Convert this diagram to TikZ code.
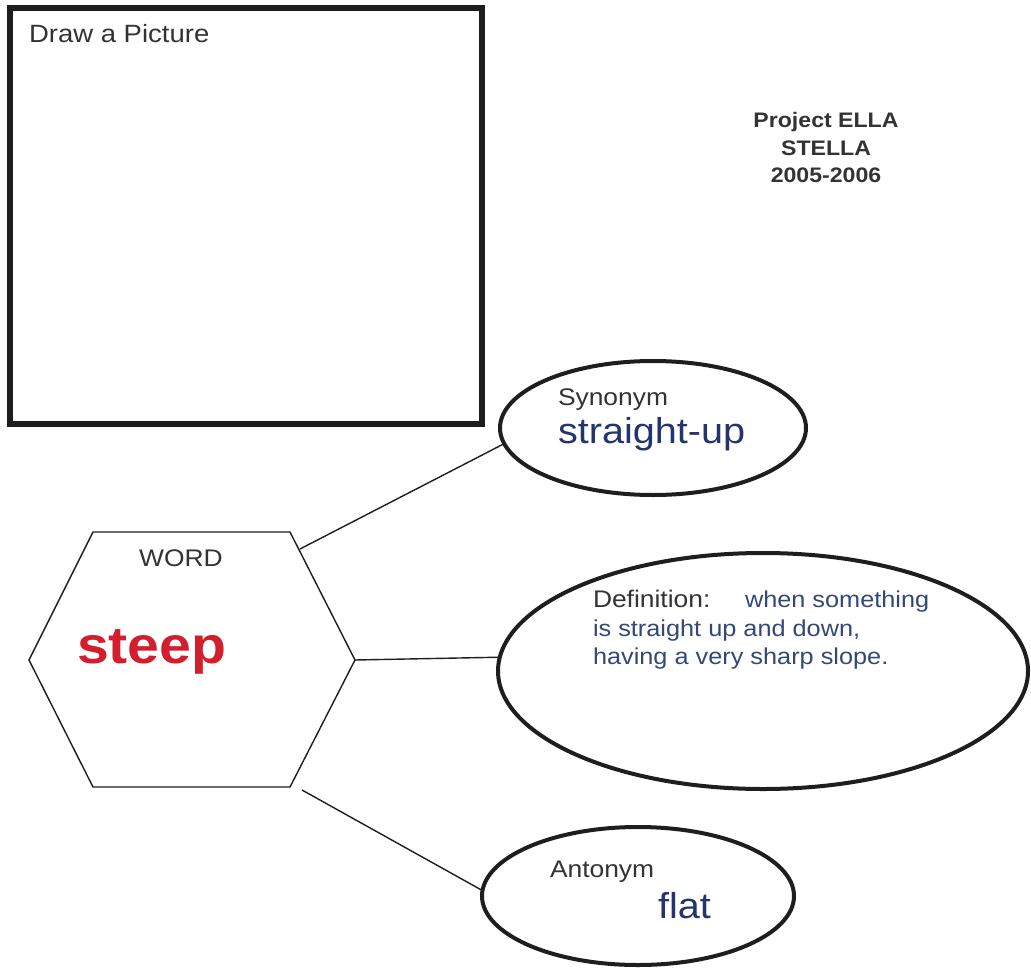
\documentclass[tikz,border=0pt]{standalone}
\usepackage{fontspec}
\setmainfont{Liberation Sans}[FakeStretch=1.1]
\usetikzlibrary{shapes.geometric}
\definecolor{txt}{RGB}{51,51,51}
\definecolor{navy}{RGB}{36,52,110}
\definecolor{slate}{RGB}{52,72,120}
\definecolor{wordred}{RGB}{210,30,45}
\definecolor{ink}{RGB}{30,30,30}
\tikzset{
  lbl/.style={inner sep=0pt, outer sep=0pt, anchor=base west, text=txt},
  clbl/.style={inner sep=0pt, outer sep=0pt, anchor=base, text=txt},
  bubble/.style={ellipse, draw=ink, line width=4pt, inner sep=0pt, outer sep=0pt},
  link/.style={draw=ink, line width=1.4pt},
}
\begin{document}
\begin{tikzpicture}[x=1pt,y=-1pt]
\useasboundingbox (0,0) rectangle (1031,969);
\fill[white] (0,0) rectangle (1031,969);
% picture frame
\node[draw=ink, line width=6pt, minimum width=472pt, minimum height=416.5pt, inner sep=0pt, outer sep=0pt] (pic) at (246,215.75) {};
\node[lbl, font=\fontsize{25}{30}\selectfont] (drawlbl) at (29,42) {Draw a Picture};
% project info
\node[clbl, font=\bfseries\fontsize{21}{26}\selectfont] (proj1) at (826,127) {Project ELLA};
\node[clbl, font=\bfseries\fontsize{21}{26}\selectfont] (proj2) at (826,155) {STELLA};
\node[clbl, font=\bfseries\fontsize{21}{26}\selectfont] (proj3) at (826,182) {2005-2006};
% hexagon
\coordinate (h1) at (29,660);
\coordinate (h2) at (93,532);
\coordinate (h3) at (290,532);
\coordinate (h4) at (355,660);
\coordinate (h5) at (290,787);
\coordinate (h6) at (93,787);
\draw[link, line join=miter] (h1) -- (h2) -- (h3) -- (h4) -- (h5) -- (h6) -- cycle;
\node[clbl, font=\fontsize{24}{29}\selectfont] (word) at (181,566) {WORD};
\node[lbl, text=wordred, font=\bfseries\fontsize{52}{60}\selectfont] (steep) at (77,663) {steep};
% ellipses
\node[bubble, minimum width=306pt, minimum height=134pt] (syn) at (653,428) {};
\node[bubble, minimum width=530pt, minimum height=236pt] (def) at (763,671) {};
\node[bubble, minimum width=312pt, minimum height=138pt] (ant) at (638,896) {};
% connectors
\coordinate (c1) at (300,549);
\coordinate (c3) at (302,790);
\draw[link] (c1) -- (syn.186);
\draw[link] (h4) -- (def.177.7);
\draw[link] (c3) -- (ant.178);
% texts in ellipses
\node[lbl, font=\fontsize{24}{29}\selectfont] (synlbl) at (558,405) {Synonym};
\node[lbl, text=navy, font=\fontsize{36}{42}\selectfont] (synword) at (558,443) {straight-up};
\node[lbl, font=\fontsize{24}{29}\selectfont] (deflbl) at (593,607) {Definition:};
\node[lbl, text=slate, font=\fontsize{23}{28}\selectfont] (def1) at (745,607) {when something};
\node[lbl, text=slate, font=\fontsize{23}{28}\selectfont] (def2) at (593,636) {is straight up and down,};
\node[lbl, text=slate, font=\fontsize{23}{28}\selectfont] (def3) at (593,664) {having a very sharp slope.};
\node[lbl, font=\fontsize{24}{29}\selectfont] (antlbl) at (550,877) {Antonym};
\node[lbl, text=navy, font=\fontsize{36}{42}\selectfont] (antword) at (658,918) {flat};
\end{tikzpicture}
\end{document}
